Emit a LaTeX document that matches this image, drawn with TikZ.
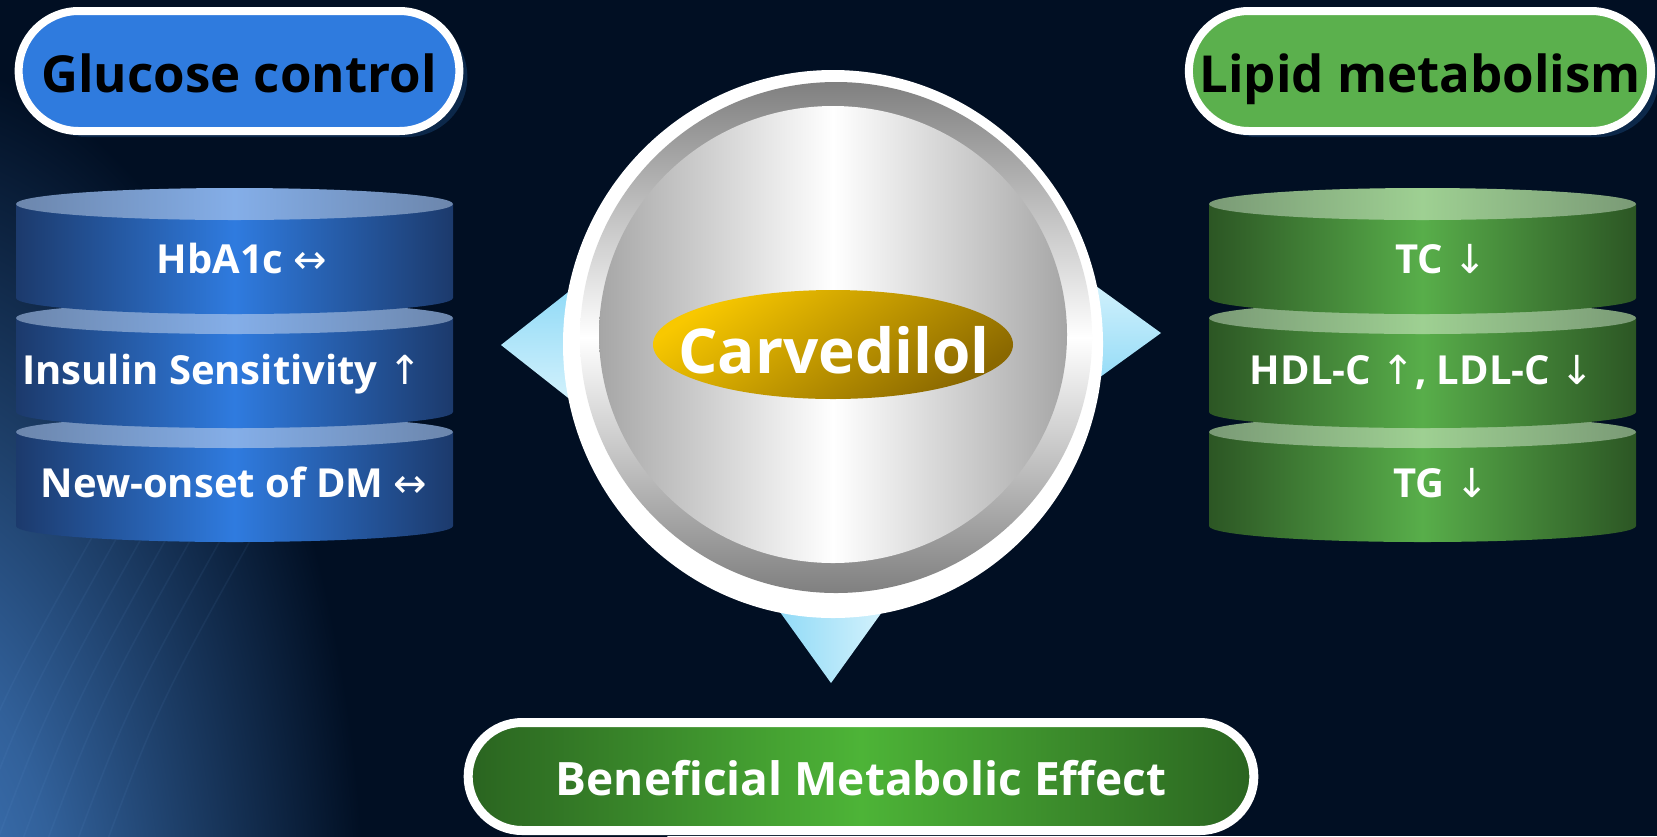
\documentclass[tikz,border=0pt]{standalone}
\usepackage{fontspec}
\setmainfont{Open Sans}
\newfontfamily\flechafont{DejaVu Sans}
\usepackage{tikz}
\usetikzlibrary{shapes.misc, shadows}
\definecolor{fondo}{RGB}{1,15,35}
\definecolor{brillo}{RGB}{66,124,194}
\definecolor{estela}{RGB}{110,160,220}
\definecolor{sombra}{RGB}{12,40,74}
\definecolor{azulPill}{RGB}{47,123,222}
\definecolor{verdePill}{RGB}{91,176,77}
\definecolor{azulBorde}{RGB}{28,58,108}
\definecolor{azulCentro}{RGB}{47,123,223}
\definecolor{azulTapaBorde}{RGB}{108,134,172}
\definecolor{azulTapaCentro}{RGB}{132,174,232}
\definecolor{verdeBorde}{RGB}{44,86,36}
\definecolor{verdeCentro}{RGB}{88,174,74}
\definecolor{verdeTapaBorde}{RGB}{122,154,118}
\definecolor{verdeTapaCentro}{RGB}{158,208,146}
\definecolor{verdeOscuro}{RGB}{42,100,32}
\definecolor{verdeClaro}{RGB}{77,180,55}
\definecolor{celeste}{RGB}{132,214,246}
\definecolor{celesteClaro}{RGB}{224,246,253}
\definecolor{grisAnillo}{RGB}{128,128,128}
\definecolor{grisDisco}{RGB}{166,166,166}
\definecolor{oro}{RGB}{248,200,0}
\definecolor{oroOscuro}{RGB}{138,104,0}
\pgfdeclareradialshading{resplandor}{\pgfpoint{0bp}{0bp}}{color(0bp)=(brillo); color(5bp)=(brillo!75!fondo); color(15bp)=(fondo); color(50bp)=(fondo)}
\newcommand{\fArriba}{{\flechafont\mdseries ↑}}
\newcommand{\fAbajo}{{\flechafont\mdseries ↓}}
\newcommand{\fAmbos}{{\flechafont\mdseries ↔}}

\begin{document}
\begin{tikzpicture}[x=0.5pt, y=-0.5pt,
        pill/.style={rounded rectangle, draw=white, line width=4pt, minimum height=60pt, minimum width=227pt,
            text height=21pt, text depth=0pt, font=\fontsize{25.5}{28}\selectfont\bfseries},
        sombra pill/.style={drop shadow={shadow xshift=4pt, shadow yshift=-3pt, fill=sombra, opacity=1}},
        dato/.style={anchor=base, text=white, font=\fontsize{20}{24}\selectfont\bfseries}]

        % Fondo
        \useasboundingbox (0,0) rectangle (1657,836);
        \fill[fondo] (0,0) rectangle (1657,836);
        \begin{scope}
            \clip (0,0) rectangle (1657,836);
            \shade[shading=resplandor] (-90,960) ellipse[x radius=760, y radius=1500];
            \foreach \xa in {-60,-35,-10,15,40,70,100}
                \draw[estela, opacity=0.08, line width=0.8pt] (\xa,860) .. controls (\xa+60,700) .. (\xa+190,470);
        \end{scope}

        % Titulos
        \node[pill, sombra pill, fill=azulPill] (glucosa) at (239,71) {Glucose control};
        \node[pill, sombra pill, fill=verdePill] (lipidos) at (1420,71) {Lipid metabolism};

        % Cilindros (de abajo hacia arriba)
        \foreach \yt in {432,318,204}{
            \shade[left color=azulBorde, right color=azulBorde, middle color=azulCentro]
                (16,\yt) -- (16,\yt+94) arc[start angle=180, end angle=0, x radius=218.5, y radius=16] -- (453,\yt) -- cycle;
            \shade[left color=azulTapaBorde, right color=azulTapaBorde, middle color=azulTapaCentro]
                (234.5,\yt) ellipse[x radius=218.5, y radius=16];
            \shade[left color=verdeBorde, right color=verdeBorde, middle color=verdeCentro]
                (1209,\yt) -- (1209,\yt+94) arc[start angle=180, end angle=0, x radius=213.5, y radius=16] -- (1636,\yt) -- cycle;
            \shade[left color=verdeTapaBorde, right color=verdeTapaBorde, middle color=verdeTapaCentro]
                (1422.5,\yt) ellipse[x radius=213.5, y radius=16];
        }

        \node[dato] (hba) at (242,273) {HbA1c \fAmbos};
        \node[dato] (insulina) at (222,384) {Insulin Sensitivity \fArriba};
        \node[dato] (dm) at (234,497) {New-onset of DM \fAmbos};
        \node[dato] (tc) at (1441,273) {TC \fAbajo};
        \node[dato] (hdl) at (1422,384) {HDL-C \fArriba, LDL-C \fAbajo};
        \node[dato] (tg) at (1441,497) {TG \fAbajo};

        % Puntas
        \shade[top color=celeste, bottom color=celesteClaro] (501,345) -- (600,267) -- (600,423) -- cycle;
        \shade[top color=celesteClaro, bottom color=celeste] (1161,333) -- (1060,260) -- (1060,406) -- cycle;
        \shade[left color=celeste, right color=celesteClaro] (831,683) -- (757,580) -- (905,580) -- cycle;

        % Disco central
        \fill[white] (833,344) ellipse[x radius=270, y radius=274];
        \shade[top color=grisAnillo, bottom color=grisAnillo, middle color=white]
            (836,337.5) ellipse[x radius=256, y radius=255.5];
        \shade[left color=grisDisco, right color=grisDisco, middle color=white]
            (833,334.5) ellipse[x radius=234, y radius=228.5];
        \shade[top color=oro, bottom color=oroOscuro, shading angle=35]
            (833,344.5) ellipse[x radius=180, y radius=54.5];
        \node[anchor=base, text=white, font=\fontsize{31}{34}\selectfont\bfseries] (carv) at (834,373) {Carvedilol};

        % Resultado
        \node[pill, minimum width=399.5pt, minimum height=54pt, text=white, line width=4.5pt, text height=18.5pt,
            left color=verdeOscuro, right color=verdeOscuro, middle color=verdeClaro,
            font=\fontsize{23}{26}\selectfont\bfseries] (efecto) at (861,776.5) {Beneficial Metabolic Effect};
\end{tikzpicture}
\end{document}
